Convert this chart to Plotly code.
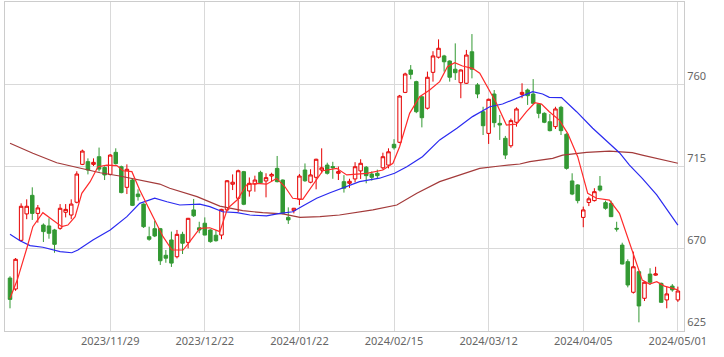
import plotly.graph_objects as go

# ---- data ----
open_ = [653.5, 647.5, 674.2, 688.7, 698.9, 689.0, 682.6, 682.1, 679.9, 680.8,
         689.6, 688.1, 695.1, 715.9, 717.4, 715.9, 720.1, 714.2, 710.4, 722.5,
         714.6, 703.3, 707.3, 699.6, 694.1, 676.2, 680.6, 680.6, 666.0, 674.4,
         665.2, 677.5, 673.1, 690.9, 681.1, 683.6, 679.9, 677.0, 677.1, 690.9,
         705.0, 697.3, 711.9, 701.3, 705.1, 711.5, 706.8, 709.5, 713.7, 707.3,
         686.8, 690.5, 696.7, 712.8, 706.1, 708.8, 712.8, 715.5, 714.7, 711.0,
         706.4, 705.5, 707.9, 712.3, 714.3, 710.6, 711.0, 714.0, 715.5, 726.9,
         728.0, 755.4, 767.7, 761.3, 753.0, 746.7, 766.4, 774.7, 775.4, 772.6,
         768.1, 760.7, 760.4, 777.7, 759.5, 744.8, 732.9, 754.5, 738.4, 730.2,
         726.1, 739.0, 754.3, 756.7, 754.5, 748.9, 743.9, 739.3, 736.6, 747.2,
         732.4, 706.8, 704.6, 686.8, 695.0, 696.0, 704.0, 694.9, 694.5, 680.8,
         671.6, 662.5, 645.7, 657.0, 642.4, 655.7, 655.1, 650.6, 641.5, 649.1,
         641.5]
high = [654.5, 664.5, 694.5, 696.7, 703.3, 693.6, 683.5, 686.3, 680.5, 694.1,
        694.1, 696.7, 712.1, 724.0, 719.2, 719.2, 725.1, 714.8, 721.5, 724.7,
        715.2, 715.9, 708.0, 702.2, 694.5, 681.7, 685.0, 681.0, 668.9, 679.0,
        679.9, 678.9, 686.5, 696.9, 684.4, 686.8, 680.3, 679.9, 691.5, 707.3,
        710.4, 713.0, 712.3, 708.7, 709.7, 712.4, 711.0, 711.3, 720.5, 707.6,
        692.3, 692.0, 710.6, 716.4, 713.2, 719.0, 724.7, 716.8, 717.3, 714.7,
        710.0, 708.0, 717.1, 718.7, 715.0, 712.0, 713.0, 722.3, 724.7, 729.7,
        754.0, 766.2, 770.4, 761.8, 753.4, 766.8, 778.0, 784.5, 776.0, 773.0,
        782.3, 768.0, 778.7, 787.4, 760.5, 747.5, 752.0, 756.7, 743.0, 731.5,
        741.0, 747.2, 760.4, 757.5, 762.7, 749.5, 744.5, 743.5, 747.5, 748.0,
        733.0, 711.0, 705.0, 692.7, 698.2, 702.8, 709.5, 696.0, 696.0, 684.4,
        672.9, 663.8, 668.0, 657.5, 651.5, 658.9, 659.7, 651.0, 648.6, 650.2,
        648.8]
low = [636.9, 646.5, 673.5, 685.8, 685.4, 683.9, 673.3, 675.1, 667.4, 680.0,
       686.8, 685.8, 694.5, 715.5, 710.4, 715.0, 712.0, 707.3, 709.8, 715.8,
       700.0, 699.6, 693.0, 696.0, 681.0, 674.0, 676.0, 660.7, 661.9, 659.6,
       664.3, 666.7, 669.8, 687.0, 678.1, 677.0, 672.9, 673.5, 674.8, 690.2,
       701.8, 689.8, 693.5, 698.2, 700.9, 705.2, 697.8, 706.4, 706.0, 688.5,
       683.2, 689.0, 693.6, 706.3, 705.5, 702.2, 711.0, 710.3, 708.0, 707.3,
       700.4, 703.0, 706.0, 707.9, 705.5, 707.0, 708.0, 713.0, 713.7, 724.0,
       727.5, 755.0, 762.6, 744.0, 736.2, 746.0, 761.3, 774.0, 766.8, 761.3,
       762.2, 752.2, 760.0, 763.1, 752.2, 732.0, 727.1, 736.2, 729.3, 718.8,
       725.0, 736.6, 752.2, 748.5, 749.0, 741.2, 738.5, 734.0, 735.3, 732.0,
       713.0, 699.0, 694.5, 681.4, 693.0, 695.5, 701.0, 691.0, 687.0, 679.0,
       661.0, 648.4, 645.0, 629.2, 640.9, 649.7, 654.8, 640.0, 636.9, 646.0,
       640.4]
close = [641.8, 663.8, 692.9, 692.9, 689.0, 692.0, 679.0, 678.1, 672.0, 691.8,
         691.2, 694.1, 710.6, 723.2, 712.8, 717.0, 713.3, 710.1, 721.0, 716.3,
         700.4, 713.2, 693.4, 698.2, 681.7, 674.8, 676.6, 663.0, 664.4, 661.7,
         677.5, 672.6, 686.3, 687.7, 679.9, 677.1, 673.5, 674.0, 691.2, 706.9,
         706.1, 712.4, 694.0, 705.5, 707.3, 705.8, 708.6, 710.4, 706.4, 689.0,
         685.4, 691.8, 709.5, 706.9, 710.1, 718.7, 714.0, 711.0, 714.0, 711.9,
         702.8, 706.6, 714.6, 716.5, 709.7, 708.8, 709.7, 720.1, 722.8, 725.0,
         753.4, 765.5, 765.3, 744.8, 741.5, 763.7, 775.4, 779.6, 772.2, 763.7,
         766.2, 767.7, 775.9, 768.1, 754.5, 737.1, 751.6, 738.8, 737.5, 721.0,
         739.9, 746.3, 755.4, 753.6, 749.4, 743.9, 739.0, 734.4, 746.3, 734.4,
         713.7, 699.6, 696.0, 690.9, 697.0, 700.9, 701.8, 691.8, 687.2, 680.4,
         661.2, 649.7, 659.7, 638.2, 651.2, 651.2, 655.8, 640.2, 644.8, 647.0,
         646.4]

# trading-day index of each labelled date, and the labels
tick_day_index = [18, 35, 52, 69, 86, 103, 120]
tick_labels = ["2023/11/29", "2023/12/22", "2024/01/22", "2024/02/15",
               "2024/03/12", "2024/04/05", "2024/05/01"]
price_ticks = [625, 670, 715, 760]

# moving averages sampled along the lines (trading-day index, price)
ma_short_idx = [0, 1.3, 3.1, 4.1, 5.9, 7.7, 9.3, 10.4, 11.7, 12.9, 14.4, 15.8, 17.4,
                19.2, 20.3, 21.9, 23.3, 25.7, 27.5, 29.1, 31.1, 32.3, 34.1, 35.9,
                37.7, 39.1, 40.8, 42.5, 44.3, 46.1, 47.9, 49.4, 50.8, 52.6, 54.4,
                56.2, 58.7, 60.5, 64.1, 67, 68.8, 70, 71.8, 73.6, 75.4, 77.2, 78.6,
                79.9, 81.3, 83.1, 84.4, 85.8, 87.4, 89.2, 91, 92.8, 94.3, 95.5,
                96.9, 98.7, 100.2, 102, 103.8, 105.4, 107.7, 109.5, 110.9, 112.2,
                113.6, 114.9, 116.2, 117.6, 120]
ma_short_val = [642.4, 652.4, 670.7, 681.7, 689.4, 685.4, 681.7, 682.6, 687.2, 700.0,
                706.4, 714.6, 715.5, 715.2, 712.4, 711.9, 701.8, 687.2, 676.2, 668.9,
                668.9, 673.5, 680.8, 681.1, 679.0, 691.8, 696.3, 704.6, 705.5, 705.0,
                708.2, 703.6, 697.3, 696.7, 704.6, 712.4, 713.7, 710.1, 711.0, 712.8,
                716.5, 725.6, 743.9, 753.0, 756.7, 761.3, 769.5, 771.7, 769.9, 768.6,
                765.9, 758.5, 749.4, 737.5, 738.0, 744.8, 749.7, 749.0, 744.8, 740.2,
                732.9, 720.1, 700.0, 697.3, 696.3, 689.0, 676.2, 665.2, 652.4, 650.2,
                651.5, 649.1, 647.0]
ma_mid_idx = [0, 1.8, 3.6, 5.9, 9.0, 11.1, 12.2, 14.9, 18, 21, 23.3, 26, 28.2, 30.5,
              34.1, 35.9, 38.2, 40.8, 43.1, 46.1, 48.5, 50.8, 52.6, 55.1, 57.5, 59.8,
              62.8, 66.4, 69.1, 71.3, 74.1, 77.2, 80.3, 83.1, 86.2, 88.5, 91.6, 93.9,
              95.7, 96.9, 99.1, 101.8, 104.7, 107.7, 109.5, 111.3, 113.6, 116.2,
              117.9, 120]
ma_mid_val = [677.5, 674.0, 671.3, 670.4, 668.0, 667.4, 668.9, 674.4, 679.9, 687.2,
              694.5, 697.3, 695.4, 693.6, 694.1, 692.7, 689.9, 689.4, 688.1, 687.6,
              689.0, 689.9, 693.0, 697.3, 700.3, 703.1, 706.4, 708.3, 711.0, 714.6,
              720.1, 729.3, 735.7, 742.1, 747.5, 749.0, 752.7, 755.8, 754.5, 752.7,
              752.5, 744.8, 735.7, 727.1, 722.3, 715.5, 708.2, 699.1, 691.8, 682.6]
ma_long_idx = [0, 4.1, 8.4, 12.6, 16.2, 19.7, 23.3, 26.9, 28.7, 30.5, 33.6, 37.7,
               41.8, 45.4, 49, 52.1, 55.7, 59.2, 65.2, 69.5, 73.1, 77.2, 80.8, 84.4,
               88, 91.6, 93.4, 97.5, 99.3, 103.6, 107.7, 111.8, 113.6, 117.2, 120]
ma_long_val = [727.5, 722.0, 716.8, 713.7, 711.3, 709.5, 707.3, 705.1, 702.8, 701.0,
               698.2, 693.0, 690.5, 689.4, 688.7, 686.8, 687.2, 688.1, 690.9, 693.6,
               700.0, 706.4, 710.1, 713.7, 715.0, 716.1, 717.4, 719.2, 721.0, 722.5,
               723.2, 722.3, 721.0, 718.7, 716.5]

# ---- figure ----
RED = "#e60000"
GREEN = "#339933"
days = list(range(len(open_)))

fig = go.Figure()
fig.add_trace(go.Scatter(x=ma_long_idx, y=ma_long_val, mode="lines",
                         line=dict(color="#a33a3a", width=1.2), hoverinfo="skip"))
fig.add_trace(go.Scatter(x=ma_mid_idx, y=ma_mid_val, mode="lines",
                         line=dict(color="#2a2af0", width=1.2), hoverinfo="skip"))
fig.add_trace(go.Candlestick(
    x=days, open=open_, high=high, low=low, close=close,
    increasing=dict(line=dict(color=RED, width=1), fillcolor="#ffffff"),
    decreasing=dict(line=dict(color=GREEN, width=1), fillcolor=GREEN),
    whiskerwidth=0,
))
fig.add_trace(go.Scatter(x=ma_short_idx, y=ma_short_val, mode="lines",
                         line=dict(color="#ff2a2a", width=1.2), hoverinfo="skip"))

fig.update_layout(
    width=724, height=357,
    margin=dict(l=5, r=40, t=2, b=26),
    paper_bgcolor="white", plot_bgcolor="white",
    showlegend=False,
    boxgap=0.3, boxgroupgap=0.1,
    font=dict(family="Noto Sans, Open Sans, sans-serif", size=11, color="#666666"),
)
fig.update_xaxes(
    range=[-0.9, 121.1], rangeslider_visible=False,
    tickmode="array", tickvals=tick_day_index, ticktext=tick_labels,
    showgrid=True, gridcolor="#d9d9d9", gridwidth=1,
    showline=True, linecolor="#cccccc", linewidth=1, mirror=True,
    ticks="", zeroline=False,
)
fig.update_yaxes(
    side="right", range=[624.45, 805],
    tickmode="array", tickvals=price_ticks,
    ticklabelposition="outside top",
    showgrid=True, gridcolor="#d9d9d9", gridwidth=1,
    showline=True, linecolor="#cccccc", linewidth=1, mirror=True,
    ticks="", zeroline=False,
)

fig.write_html("out.html", config={"displayModeBar": False},
               post_script="document.body.style.margin='0';")
